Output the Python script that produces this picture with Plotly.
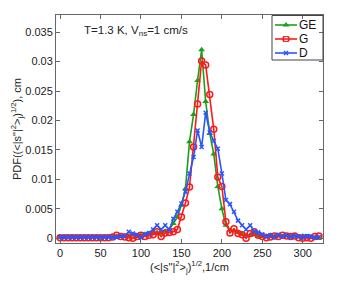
import plotly.graph_objects as go

x_vals = [0, 5, 10, 15, 20, 25, 30, 35, 40, 45, 50, 55, 60, 65, 70, 75, 80, 85, 90, 95,
          100, 105, 110, 115, 120, 125, 130, 135, 140, 145, 150, 155, 160, 165, 170, 175,
          180, 185, 190, 195, 200, 205, 210, 215, 220, 225, 230, 235, 240, 245, 250, 255,
          260, 265, 270, 275, 280, 285, 290, 295, 300, 305, 310, 315, 320]

ge_vals = [0.0002, 0.0002, 0.0002, 0.0002, 0.0002, 0.0002, 0.0002, 0.0002, 0.0002, 0.0002,
           0.0002, 0.0002, 0.0002, 0.0002, 0.0003, 0.0003, 0.0004, 0.0004, 0.0006, 0.0003,
           0.0005, 0.0007, 0.0008, 0.0009, 0.0010, 0.0009, 0.0012, 0.0015, 0.0025, 0.0036,
           0.0056, 0.0084, 0.0164, 0.0210, 0.0268, 0.0320, 0.0232, 0.0178, 0.0143, 0.0088,
           0.0050, 0.0022, 0.0014, 0.0013, 0.0010, 0.0007, 0.0005, 0.0005, 0.0006, 0.0004,
           0.0003, 0.0004, 0.0005, 0.0003, 0.0004, 0.0003, 0.0004, 0.0003, 0.0004, 0.0003,
           0.0004, 0.0003, 0.0002, 0.0001, 0.0000]

g_vals = [0.0001, 0.0001, 0.0001, 0.0001, 0.0001, 0.0001, 0.0001, 0.0001, 0.0001, 0.0001,
          0.0001, 0.0001, 0.0001, 0.0002, 0.0005, 0.0003, 0.0002, 0.0001, 0.0000, 0.0003,
          0.0005, 0.0003, 0.0005, 0.0006, 0.0011, 0.0003, 0.0009, 0.0010, 0.0011, 0.0015,
          0.0036, 0.0060, 0.0087, 0.0155, 0.0228, 0.0301, 0.0294, 0.0244, 0.0185, 0.0104,
          0.0088, 0.0028, 0.0009, 0.0016, 0.0008, 0.0006, 0.0000, 0.0008, 0.0011, 0.0005,
          0.0003, 0.0001, 0.0002, 0.0004, 0.0003, 0.0005, 0.0004, 0.0003, 0.0004, 0.0001,
          0.0000, 0.0001, 0.0000, 0.0003, 0.0004]

d_vals = [0.0002, 0.0002, 0.0002, 0.0002, 0.0002, 0.0002, 0.0002, 0.0002, 0.0002, 0.0002,
          0.0002, 0.0002, 0.0002, 0.0001, 0.0002, 0.0003, 0.0004, 0.0011, 0.0008, 0.0006,
          0.0001, 0.0007, 0.0009, 0.0015, 0.0022, 0.0015, 0.0022, 0.0014, 0.0033, 0.0045,
          0.0059, 0.0079, 0.0110, 0.0138, 0.0183, 0.0155, 0.0213, 0.0180, 0.0165, 0.0152,
          0.0110, 0.0065, 0.0058, 0.0045, 0.0030, 0.0022, 0.0015, 0.0022, 0.0012, 0.0010,
          0.0007, 0.0003, 0.0005, 0.0002, 0.0006, 0.0003, 0.0005, 0.0002, 0.0004, 0.0003,
          0.0002, 0.0004, 0.0003, 0.0001, 0.0002]

series_names = ["GE", "G", "D"]
x_ticks = [0, 50, 100, 150, 200, 250, 300]
y_ticks = [0, 0.005, 0.01, 0.015, 0.02, 0.025, 0.03, 0.035]
y_tick_text = ["0", "0.005", "0.01", "0.015", "0.02", "0.025", "0.03", "0.035"]

FONT = "Liberation Sans, Arial, sans-serif"
OFF = 8  # default page body margin
W, H = 343 - OFF, 284 - OFF
ML, MR, MT, MB = 56 - OFF, 20, 15 - OFF, 41
PW, PH = W - ML - MR, H - MT - MB

colors = ["#1aa01a", "#ff1a1a", "#2a55ff"]
markers = [
    dict(symbol="triangle-up", size=6, color=colors[0]),
    dict(symbol="circle-open", size=6, color=colors[1], line=dict(width=1.5, color=colors[1])),
    dict(symbol="x-thin-open", size=4, color=colors[2], line=dict(width=1.5, color=colors[2])),
]
series = [ge_vals, g_vals, d_vals]


def px_x(p):
    return (p - OFF - ML) / PW


def px_y(p):
    return 1 - (p - OFF - MT) / PH


fig = go.Figure()
for name, vals, col, mk in zip(series_names, series, colors, markers):
    fig.add_trace(go.Scatter(
        x=x_vals, y=vals, name=name, mode="lines+markers",
        line=dict(color=col, width=1.6), marker=mk, showlegend=False,
    ))

# compact MATLAB-style legend (box in page pixels: x 272-323, y 16-60)
leg_rows = [25, 39, 53]
leg_axes = ["y2", "y3", "y4"]
for name, col, mk, row, ya in zip(series_names, colors, markers, leg_rows, leg_axes):
    fig.add_trace(go.Scatter(
        x=[0, 1], y=[0, 0], mode="lines", line=dict(color=col, width=1.6),
        xaxis="x2", yaxis=ya, showlegend=False, hoverinfo="skip",
    ))
    fig.add_trace(go.Scatter(
        x=[0.5], y=[0], mode="markers", marker=mk,
        xaxis="x2", yaxis=ya, showlegend=False, hoverinfo="skip",
    ))
    fig.add_annotation(
        x=px_x(297), y=px_y(row), xref="paper", yref="paper", showarrow=False,
        text=name, xanchor="left", yanchor="middle",
        font=dict(family=FONT, size=12, color="#111111"),
    )

fig.update_layout(
    xaxis2=dict(domain=[px_x(275), px_x(297)], range=[0, 1], visible=False, anchor="y2"),
)
for ax, row in zip(["yaxis2", "yaxis3", "yaxis4"], leg_rows):
    fig.update_layout(**{ax: dict(domain=[px_y(row + 3), px_y(row - 3)], range=[-1, 1],
                                  visible=False, anchor="x2")})

fig.add_shape(type="rect", xref="paper", yref="paper",
              x0=px_x(272), x1=px_x(323), y0=px_y(60), y1=px_y(15.5),
              line=dict(color="#444444", width=1), fillcolor="rgba(0,0,0,0)", layer="above")

axis_common = dict(
    showline=True, linecolor="#666666", linewidth=1, mirror="ticks",
    ticks="inside", ticklen=4, tickcolor="#666666", showgrid=False, zeroline=False,
    tickfont=dict(family=FONT, size=11, color="#222222"), automargin=False,
)

fig.update_layout(
    xaxis=dict(
        domain=[0, 1], anchor="y",
        range=[-5, 325], tickmode="array", tickvals=x_ticks, **axis_common,
        title=dict(text="(&lt;|s\"|<sup>2</sup>&gt;<sub>j</sub>)<sup>1/2</sup>,1/cm",
                   font=dict(family=FONT, size=11, color="#222222"), standoff=2),
    ),
    yaxis=dict(
        domain=[0, 1], anchor="x",
        range=[-0.0008, 0.0379], tickmode="array", tickvals=y_ticks, ticktext=y_tick_text,
        **axis_common,
        title=dict(text="PDF((&lt;|s\"|<sup>2</sup>&gt;<sub>j</sub>)<sup>1/2</sup>), cm",
                   font=dict(family=FONT, size=11, color="#222222"), standoff=1),
    ),
)

fig.add_annotation(
    x=px_x(82), y=px_y(31), xref="paper", yref="paper", showarrow=False,
    text="T=1.3 K, V<sub>ns</sub>=1 cm/s",
    font=dict(family=FONT, size=11.5, color="#222222"),
    xanchor="left", yanchor="middle",
)

fig.update_layout(
    width=W, height=H,
    margin=dict(l=ML, r=MR, t=MT, b=MB),
    paper_bgcolor="white", plot_bgcolor="white",
    showlegend=False,
)

fig.write_html("out.html")
